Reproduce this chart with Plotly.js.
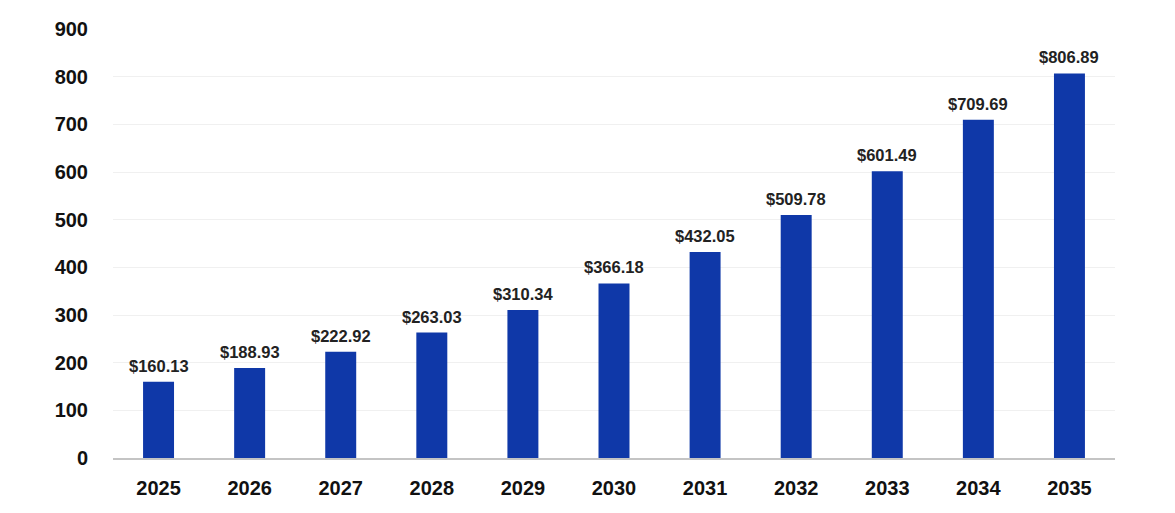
<!DOCTYPE html>
<html>
<head>
<meta charset="utf-8">
<script src="https://cdn.plot.ly/plotly-3.0.1.min.js"></script>
<style>
  html, body { margin: 0; padding: 0; background: #fff; }
  #chart { width: 1175px; height: 513px; }
</style>
</head>
<body>
<div id="chart"></div>
<script>
// market size by year
const years = ['2025', '2026', '2027', '2028', '2029', '2030', '2031', '2032', '2033', '2034', '2035'];
const values = [160.13, 188.93, 222.92, 263.03, 310.34, 366.18, 432.05, 509.78, 601.49, 709.69, 806.89];
const yTicks = [0, 100, 200, 300, 400, 500, 600, 700, 800, 900];

const barColor = '#0f38a8';
const fontFamily = '"Liberation Sans", Arial, sans-serif';

const trace = {
   type: 'bar',
   x: years,
   y: values,
   marker: {color: barColor},
   width: 0.34,
   hoverinfo: 'skip'
};

// value labels above each bar
// numeric-looking strings on a category axis are read as indices, so use the index
const labels = years.map((yr, i) => ({
   x: i,
   y: values[i],
   xref: 'x',
   yref: 'y',
   text: '$' + values[i].toFixed(2),
   showarrow: false,
   yanchor: 'bottom',
   yshift: 5,
   font: {family: fontFamily, size: 16.5, color: '#222', weight: 'bold'}
}));

const layout = {
   width: 1175,
   height: 513,
   margin: {l: 113, r: 60, t: 29, b: 55},
   paper_bgcolor: '#fff',
   plot_bgcolor: '#fff',
   showlegend: false,
   font: {family: fontFamily, color: '#111'},
   annotations: labels,
   xaxis: {
      type: 'category',
      range: [-0.5, years.length - 0.5],
      tickfont: {family: fontFamily, size: 20, color: '#111', weight: 'bold'},
      ticks: 'outside',
      ticklen: 11,
      tickcolor: 'rgba(0,0,0,0)',
      showgrid: false,
      showline: true,
      linecolor: '#c4c4c4',
      linewidth: 1.5
   },
   yaxis: {
      range: [0, 900],
      tickvals: yTicks,
      tickfont: {family: fontFamily, size: 20, color: '#111', weight: 'bold'},
      ticks: 'outside',
      ticklen: 20,
      tickcolor: 'rgba(0,0,0,0)',
      showgrid: true,
      gridcolor: '#f0f0f0',
      gridwidth: 1,
      zeroline: false,
      showline: false
   }
};

Plotly.newPlot('chart', [trace], layout, {displayModeBar: false, staticPlot: true});
</script>
</body>
</html>
